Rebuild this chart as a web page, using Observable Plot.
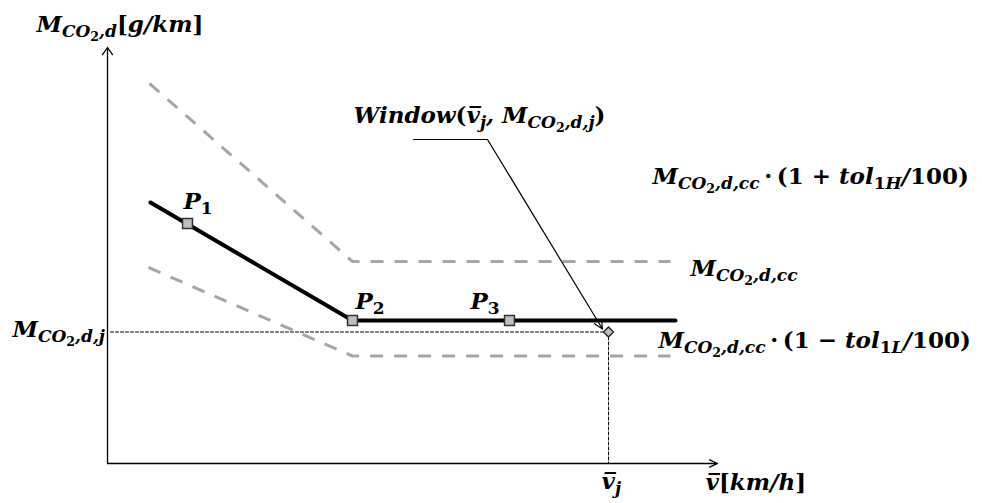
<!DOCTYPE html>
<html>
<head>
<meta charset="utf-8">
<script src="https://cdn.jsdelivr.net/npm/d3@7"></script>
<script src="https://cdn.jsdelivr.net/npm/@observablehq/plot@0.6"></script>
<style>
  html, body { margin: 0; padding: 0; background: #fff; }
</style>
</head>
<body>
<div id="chart"></div>
<script>
// Schematic units: x = average speed (arbitrary), y = CO2 emission (arbitrary)
const axisX = [0, 122];          // horizontal axis from origin to arrow tip
const axisY = [0, 83.2];         // vertical axis from origin to arrow tip

// upper tolerance band  M·(1 + tol1H/100)
const upperX = [8.4, 49, 112.6];
const upperY = [76, 40.4, 40.4];
// lower tolerance band  M·(1 − tol1L/100)
const lowerX = [8.2, 49, 112.6];
const lowerY = [39.2, 21.5, 21.5];
// characteristic curve M_CO2,d,cc
const curveX = [8.6, 49, 113.6];
const curveY = [52.2, 28.6, 28.6];

// characteristic points P1, P2, P3
const pointNames = ["P_{1}", "P_{2}", "P_{3}"];
const pointX = [16, 49, 80.4];
const pointY = [48, 28.6, 28.6];
const pointLabelX = [15.2, 49.6, 72.6];
const pointLabelY = [51, 31, 31];

// window point (v̄j, M_CO2,d,j)
const windowX = 100.2;
const windowY = 26.3;

// annotation leader line
const leaderX = [61.2, 76, 99];
const leaderY = [64.8, 64.8, 26.9];

// text labels (markup: _{...} = subscript)
const labelText = [
  "M_{CO_{2},d}[g/km]",
  "Window(v\u0305_{j}, M_{CO_{2},d,j})",
  "M_{CO_{2},d,cc}\u2009\u00B7\u2009(1 + tol_{1H}/100)",
  "M_{CO_{2},d,cc}",
  "M_{CO_{2},d,cc}\u2009\u00B7\u2009(1 \u2212 tol_{1L}/100)",
  "M_{CO_{2},d,j}",
  "v\u0305_{j}",
  "v\u0305[km/h]"
];
const labelX = [-14.2, 49.2, 109, 116.6, 110.2, -19, 98.8, 119.6];
const labelY = [86.4, 68.2, 56, 37.6, 23.2, 25.4, -5, -5.2];

const labels = labelText.map((t, i) => ({t, x: labelX[i], y: labelY[i]}));
const pts = pointNames.map((n, i) => ({n, x: pointX[i], y: pointY[i], lx: pointLabelX[i], ly: pointLabelY[i]}));
const line = (xs, ys) => xs.map((x, i) => ({x, y: ys[i]}));

const W = 982, H = 503;
const FONT = "DejaVu Serif";
const FS = 23;

const chart = Plot.plot({
  width: W,
  height: H,
  margin: 0,
  x: {domain: [-21.4, 175], axis: null},
  y: {domain: [-8, 92.6], axis: null},
  marks: [
    // dotted guide lines
    Plot.line(line([0.6, windowX], [windowY, windowY]), {x: "x", y: "y", stroke: "#000", strokeWidth: 1, strokeDasharray: "3,2"}),
    Plot.line(line([windowX, windowX], [windowY, 0]), {x: "x", y: "y", stroke: "#000", strokeWidth: 1, strokeDasharray: "3,2"}),
    // tolerance bands
    Plot.line(line(upperX, upperY), {x: "x", y: "y", stroke: "#a6a6a6", strokeWidth: 3, strokeDasharray: "13,11", strokeLinecap: "butt"}),
    Plot.line(line(lowerX, lowerY), {x: "x", y: "y", stroke: "#a6a6a6", strokeWidth: 3, strokeDasharray: "13,11", strokeLinecap: "butt"}),
    // characteristic curve
    Plot.line(line(curveX, curveY), {x: "x", y: "y", stroke: "#000", strokeWidth: 4, strokeLinecap: "round"}),
    // axes
    Plot.arrow([{x1: axisX[0], y1: 0, x2: axisX[1], y2: 0}], {x1: "x1", y1: "y1", x2: "x2", y2: "y2", stroke: "#000", strokeWidth: 1.3, headLength: 10, headAngle: 50}),
    Plot.arrow([{x1: 0, y1: axisY[0], x2: 0, y2: axisY[1]}], {x1: "x1", y1: "y1", x2: "x2", y2: "y2", stroke: "#000", strokeWidth: 1.3, headLength: 10, headAngle: 70}),
    // leader line
    Plot.line(line(leaderX.slice(0, 2), leaderY.slice(0, 2)), {x: "x", y: "y", stroke: "#000", strokeWidth: 1.2}),
    Plot.arrow([{x1: leaderX[1], y1: leaderY[1], x2: leaderX[2], y2: leaderY[2]}], {x1: "x1", y1: "y1", x2: "x2", y2: "y2", stroke: "#000", strokeWidth: 1.2, headLength: 12, headAngle: 50}),
    // points
    Plot.dot(pts, {x: "x", y: "y", symbol: "square", r: 5.6, fill: "#bfbfbf", stroke: "#333", strokeWidth: 1.5}),
    Plot.dot([{x: windowX, y: windowY}], {x: "x", y: "y", symbol: "square", r: 4, rotate: 45, fill: "#bfbfbf", stroke: "#222", strokeWidth: 1.3}),
    // point labels
    Plot.text(pts, {x: "lx", y: "ly", text: "n", textAnchor: "start", lineAnchor: "bottom", fontSize: FS, fontFamily: FONT, fontWeight: "bold", fontStyle: "italic", fill: "#000"}),
    // labels
    Plot.text(labels, {x: "x", y: "y", text: "t", textAnchor: "start", lineAnchor: "bottom", fontSize: FS, fontFamily: FONT, fontWeight: "bold", fontStyle: "italic", fill: "#000"})
  ]
});

// Convert markup to tspans with subscripts; digits and brackets upright
function parse(s) {
  const segs = [];
  let level = 0, buf = "";
  for (let i = 0; i < s.length; i++) {
    const c = s[i];
    if (c === "_" && s[i + 1] === "{") {
      if (buf) segs.push({t: buf, level});
      buf = ""; level++; i++;
    } else if (c === "}") {
      if (buf) segs.push({t: buf, level});
      buf = ""; level--;
    } else buf += c;
  }
  if (buf) segs.push({t: buf, level});
  return segs;
}
const UPRIGHT = /[0-9()\[\]\u00B7+\u2212]/;
function runs(t) {
  const out = [];
  for (const ch of t) {
    const up = UPRIGHT.test(ch);
    if (out.length && out[out.length - 1].up === up) out[out.length - 1].t += ch;
    else out.push({t: ch, up});
  }
  return out;
}
const sizeFor = (lv) => FS * Math.pow(0.74, lv);
const shiftFor = (lv) => { let s = 0; for (let k = 1; k <= lv; k++) s += sizeFor(k - 1) * (k === 1 ? 0.26 : 0.2); return s; };

d3.select(chart).selectAll('g[aria-label="text"] text').each(function () {
  const el = d3.select(this);
  const s = el.text();
  el.text(null);
  let cur = 0;
  for (const seg of parse(s)) {
    const sh = shiftFor(seg.level);
    let first = true;
    for (const r of runs(seg.t)) {
      const ts = el.append("tspan")
        .attr("font-size", sizeFor(seg.level))
        .attr("font-style", r.up ? "normal" : "italic")
        .text(r.t);
      if (first) { ts.attr("dy", (sh - cur).toFixed(2)); first = false; }
    }
    cur = sh;
  }
});

document.getElementById("chart").appendChild(chart);
</script>
</body>
</html>
